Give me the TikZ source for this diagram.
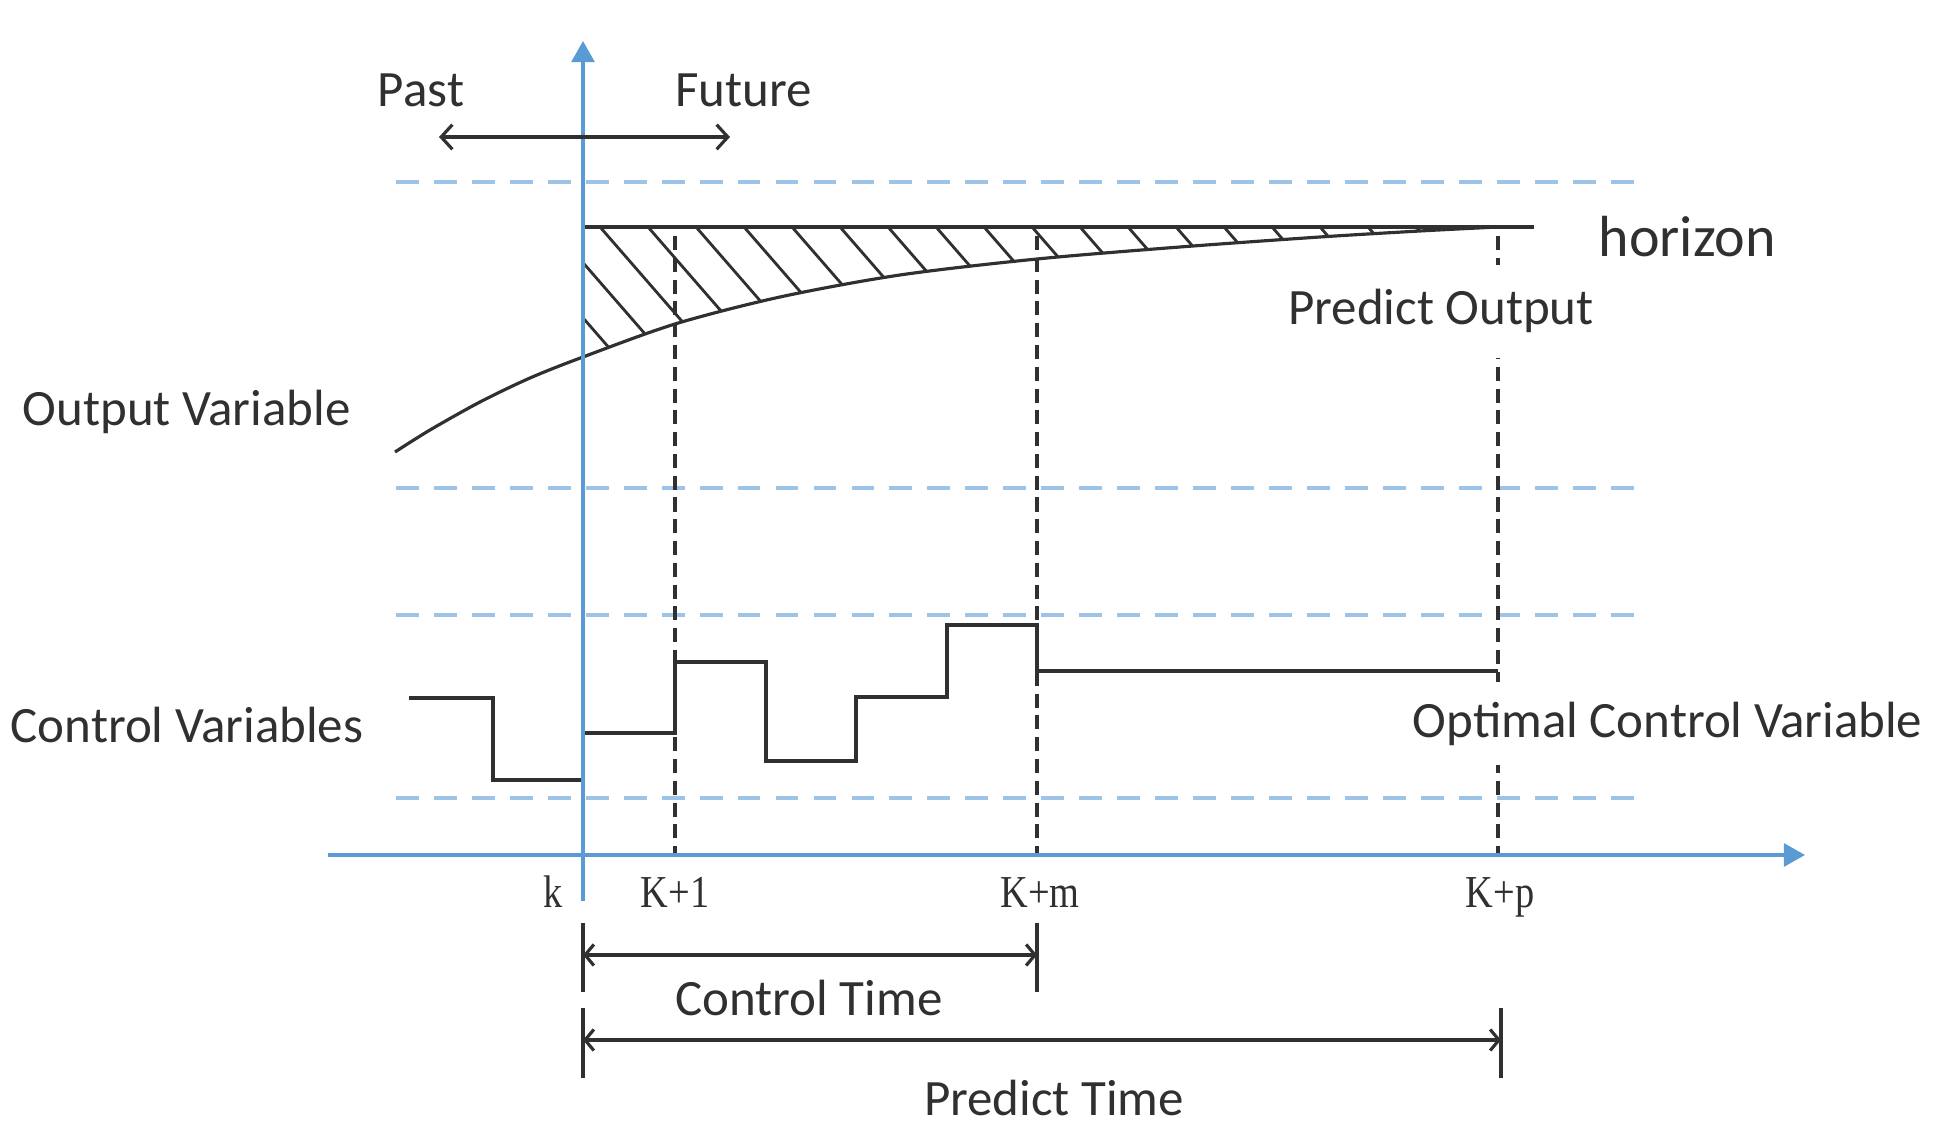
\documentclass[tikz,border=0pt]{standalone}
\usepackage{fontspec}
\setmainfont{Carlito}
\newfontfamily\tiempos[FakeStretch=0.84]{Liberation Serif}
\usetikzlibrary{arrows.meta}
\definecolor{ejeazul}{HTML}{5B9BD5}
\definecolor{lineazul}{HTML}{9DC3E6}
\definecolor{gris}{HTML}{303030}
\tikzset{
  eje/.style={ejeazul, line width=1pt, -{Triangle[length=6pt,width=6.5pt]}},
  limite/.style={lineazul, line width=1.4pt, dash pattern=on 6.5pt off 4.3pt},
  guia/.style={gris, line width=0.9pt, dash pattern=on 4pt off 2.2pt},
  curva/.style={gris, line width=0.9pt},
  flecha/.style={curva, {Straight Barb[length=3.2pt,width=7pt]}-{Straight Barb[length=3.2pt,width=7pt]}},
  cota/.style={curva, {Straight Barb[length=2.5pt,width=6pt]}-{Straight Barb[length=2.5pt,width=6pt]}},
  texto/.style={font=\fontsize{14.5}{17}\selectfont, text=gris, inner sep=0pt},
  etiq/.style={font=\tiempos\fontsize{13}{15}\selectfont, text=gris, inner sep=0pt},
}
\begin{document}
\begin{tikzpicture}
	\useasboundingbox (0,0) rectangle (19.41,11.46);
	%puntos
	\coordinate (origen) at (5.83,2.91);
	\coordinate (ejeabajo) at (5.83,2.45);
	\coordinate (ejearriba) at (5.83,11.05);
	\coordinate (ejeizq) at (3.28,2.91);
	\coordinate (ejeder) at (18.05,2.91);
	\coordinate (pasado) at (4.39,10.09);
	\coordinate (futuro) at (7.30,10.09);
	\coordinate (techo) at (5.83,9.19);
	\coordinate (finhor) at (14.98,9.19);
	\coordinate (finlinea) at (15.34,9.19);
	%%%% LIMITES (azul)
	\foreach \y in {9.64,6.58,5.31,3.48}
		\draw[limite] (3.96,\y) -- (16.44,\y);
	%%%% GUIAS
	\foreach \x in {6.75,10.37,14.98}
		\draw[guia] (\x,9.10) -- (\x,2.91);
	%%%% RAYADO
	\begin{scope}
		\clip (techo) -- (finhor) -- plot[smooth] coordinates {(14.98,9.19) (14.2,9.15) (13.2,9.09) (11.8,8.99) (10.37,8.87) (9.0,8.71) (7.8,8.49) (6.75,8.22) (5.83,7.89)} -- cycle;
		\foreach \x in {5.04,5.52,...,14.2}
			\draw[curva, line width=0.8pt] (\x,9.19) -- ++(2,-2.3);
	\end{scope}
	\draw[curva] (techo) -- (finlinea);
	%salida
	\draw[curva] plot[smooth] coordinates {(3.95,6.94) (4.3,7.16) (4.8,7.44) (5.3,7.68) (5.83,7.89) (6.75,8.22) (7.8,8.49) (9.0,8.71) (10.37,8.87) (11.8,8.99) (13.2,9.09) (14.2,9.15) (14.98,9.19)};
	%%%% CONTROL
	\draw[curva] (4.09,4.48) -- (4.93,4.48) -- (4.93,3.66) -- (5.83,3.66) -- (5.83,4.13) -- (6.75,4.13) -- (6.75,4.84) -- (7.66,4.84) -- (7.66,3.85) -- (8.56,3.85) -- (8.56,4.49) -- (9.47,4.49) -- (9.47,5.21) -- (10.37,5.21) -- (10.37,4.75) -- (14.98,4.75);
	%%%% EJES!!!
	\draw[eje] (ejeabajo) -- (ejearriba);
	\draw[eje] (ejeizq) -- (ejeder);
	\draw[flecha] (pasado) -- (futuro);
	%tiempos
	\coordinate (ct1) at (5.83,1.91);
	\coordinate (ct2) at (10.37,1.91);
	\coordinate (pt1) at (5.83,1.06);
	\coordinate (pt2) at (15.01,1.06);
	\draw[curva] (5.83,2.23) -- (5.83,1.54);
	\draw[curva] (10.37,2.23) -- (10.37,1.54);
	\draw[curva] (5.83,1.38) -- (5.83,0.68);
	\draw[curva] (15.01,1.38) -- (15.01,0.68);
	\draw[cota] (ct1) -- (ct2);
	\draw[cota] (pt1) -- (pt2);
	%textos
	\node[texto, anchor=base] at (4.21,10.39) (past) {Past};
	\node[texto, anchor=base] at (7.435,10.39) (future) {Future};
	\node[texto, anchor=base west, font=\fontsize{16.5}{19}\selectfont] at (15.98,8.89) (horizon) {horizon};
	\node[texto, anchor=base, fill=white, inner xsep=2pt, inner ysep=0.25cm] at (14.41,8.21) (predout) {Predict Output};
	\node[texto, anchor=base west] at (0.22,7.20) (outvar) {Output Variable};
	\node[texto, anchor=base west] at (0.10,4.04) (ctrlvar) {Control Variables};
	\node[texto, anchor=base west, fill=white, inner ysep=0.2cm] at (14.12,4.09) (optvar) {Optimal Control Variable};
	\node[texto, anchor=base] at (8.09,1.31) (ctime) {Control Time};
	\node[texto, anchor=base] at (10.54,0.31) (ptime) {Predict Time};
	%marcas
	\node[etiq, anchor=base] at (5.53,2.39) (k) {k};
	\node[etiq, anchor=base] at (6.75,2.39) (k1) {K+1};
	\node[etiq, anchor=base] at (10.40,2.39) (km) {K+m};
	\node[etiq, anchor=base] at (15.00,2.39) (kp) {K+p};
\end{tikzpicture}
\end{document}
